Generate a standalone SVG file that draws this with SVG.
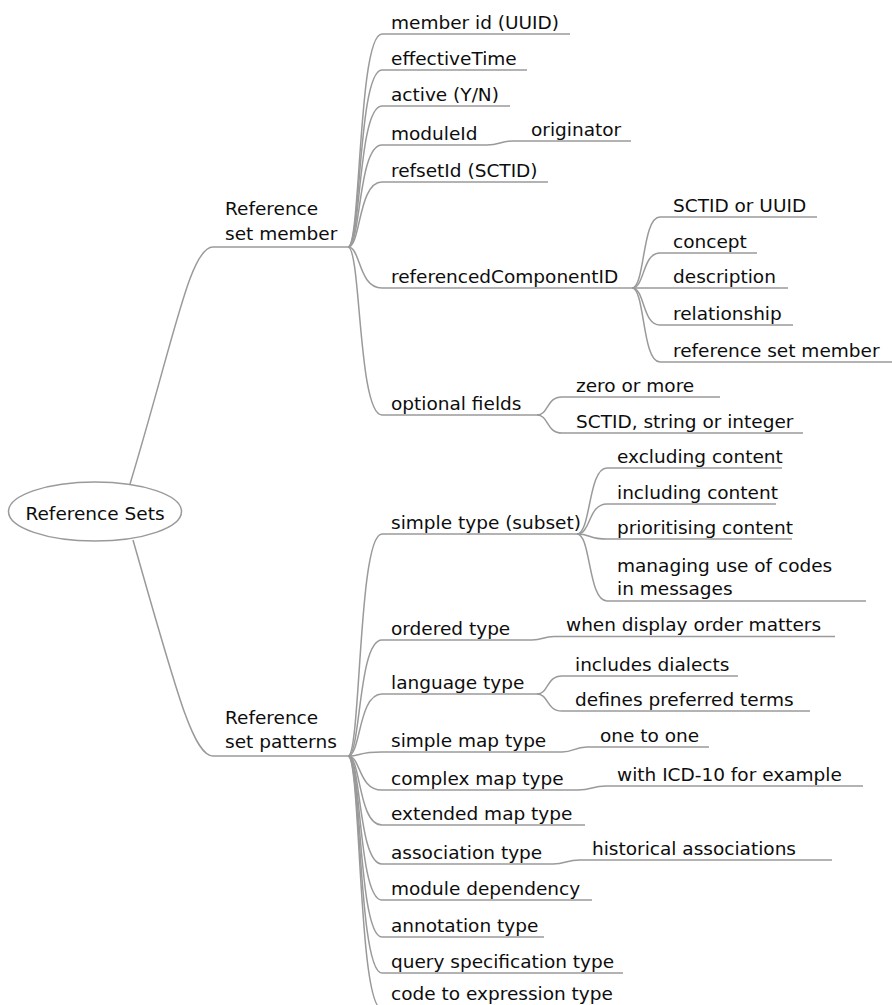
<svg xmlns="http://www.w3.org/2000/svg" width="892" height="1005" viewBox="0 0 892 1005">
<style>
text{font-family:"DejaVu Sans","Verdana",sans-serif;font-size:18.5px;fill:#0d0d0d}
.c{fill:none;stroke:#9a9a9a;stroke-width:1.5}
.root{fill:#fff;stroke:#9a9a9a;stroke-width:1.5}
</style>
<rect width="892" height="1005" fill="#fff"/>
<g id="connectors">
<path class="c" d="M130,484 C175,335 190,247 213,247 H348"/>
<path class="c" d="M133,540 C176,690 193,756 213,756 H348"/>
<path class="c" d="M348,247 C361,247 358,34 382,34 H570"/>
<path class="c" d="M348,247 C361,247 358,70 382,70 H527"/>
<path class="c" d="M348,247 C361,247 358,106 382,106 H510"/>
<path class="c" d="M348,247 C361,247 358,145 382,145 H487"/>
<path class="c" d="M487,145 C500,145 500,141 513,141 H631"/>
<path class="c" d="M348,247 C361,247 358,182 382,182 H548"/>
<path class="c" d="M348,247 C361,247 358,288 382,288 H632"/>
<path class="c" d="M348,247 C361,247 358,415 382,415 H537"/>
<path class="c" d="M632,288 C645,288 642,217 660,217 H817"/>
<path class="c" d="M632,288 C645,288 642,253 660,253 H757"/>
<path class="c" d="M632,288 C645,288 642,288 660,288 H788"/>
<path class="c" d="M632,288 C645,288 642,325 660,325 H793"/>
<path class="c" d="M632,288 C645,288 642,362 660,362 H892"/>
<path class="c" d="M537,415 C549,415 546,397 562,397 H720"/>
<path class="c" d="M537,415 C549,415 546,433 562,433 H803"/>
<path class="c" d="M348,756 C361,756 358,534 382,534 H577"/>
<path class="c" d="M348,756 C361,756 358,640 382,640 H532"/>
<path class="c" d="M532,640 C543,640 543,636.5 554,636.5 H835"/>
<path class="c" d="M348,756 C361,756 358,694 382,694 H537"/>
<path class="c" d="M348,756 C361,756 358,752 382,752 H562"/>
<path class="c" d="M562,752 C574,752 574,747 587,747 H709"/>
<path class="c" d="M348,756 C361,756 358,790 382,790 H578"/>
<path class="c" d="M578,790 C592,790 592,786 606,786 H863"/>
<path class="c" d="M348,756 C361,756 358,825 382,825 H585"/>
<path class="c" d="M348,756 C361,756 358,864 382,864 H553"/>
<path class="c" d="M553,864 C566,864 566,860 580,860 H832"/>
<path class="c" d="M348,756 C361,756 358,900 382,900 H592"/>
<path class="c" d="M348,756 C361,756 358,937 382,937 H544"/>
<path class="c" d="M348,756 C361,756 358,973 382,973 H623"/>
<path class="c" d="M348,756 C361,756 358,1009 382,1009 H623"/>
<path class="c" d="M577,534 C591,534 588,468 607,468 H782"/>
<path class="c" d="M577,534 C591,534 588,504 607,504 H776"/>
<path class="c" d="M577,534 C591,534 588,539 607,539 H792"/>
<path class="c" d="M577,534 C591,534 588,601 607,601 H866"/>
<path class="c" d="M537,694 C549,694 546,676 562,676 H738"/>
<path class="c" d="M537,694 C549,694 546,711 562,711 H810"/>
</g>
<g id="root"><ellipse class="root" cx="95" cy="511.5" rx="86.5" ry="29.5"/><text x="95" y="520" text-anchor="middle">Reference Sets</text></g>
<g id="n-member"><text x="225" y="215">Reference</text><text x="225" y="240">set member</text></g>
<g id="n-memberid"><text x="391" y="28.5">member id (UUID)</text></g>
<g id="n-effectiveTime"><text x="391" y="64.5">effectiveTime</text></g>
<g id="n-active"><text x="391" y="100.5">active (Y/N)</text></g>
<g id="n-moduleId"><text x="391" y="139.5">moduleId</text></g>
<g id="n-originator"><text x="531" y="135.5">originator</text></g>
<g id="n-refsetId"><text x="391" y="176.5">refsetId (SCTID)</text></g>
<g id="n-refcomp"><text x="391" y="282.5">referencedComponentID</text></g>
<g id="n-sctiduuid"><text x="673" y="211.5">SCTID or UUID</text></g>
<g id="n-concept"><text x="673" y="247.5">concept</text></g>
<g id="n-description"><text x="673" y="282.5">description</text></g>
<g id="n-relationship"><text x="673" y="319.5">relationship</text></g>
<g id="n-rsmember"><text x="673" y="356.5">reference set member</text></g>
<g id="n-optional"><text x="391" y="409.5">optional fields</text></g>
<g id="n-zero"><text x="576" y="391.5">zero or more</text></g>
<g id="n-sctidstr"><text x="576" y="427.5">SCTID, string or integer</text></g>
<g id="n-patterns"><text x="225" y="724">Reference</text><text x="225" y="748">set patterns</text></g>
<g id="n-simple"><text x="391" y="528.5">simple type (subset)</text></g>
<g id="n-excluding"><text x="617" y="462.5">excluding content</text></g>
<g id="n-including"><text x="617" y="498.5">including content</text></g>
<g id="n-prioritising"><text x="617" y="533.5">prioritising content</text></g>
<g id="n-managing"><text x="617" y="572">managing use of codes</text><text x="617" y="595">in messages</text></g>
<g id="n-ordered"><text x="391" y="634.5">ordered type</text></g>
<g id="n-display"><text x="566" y="630.5">when display order matters</text></g>
<g id="n-language"><text x="391" y="688.5">language type</text></g>
<g id="n-dialects"><text x="575" y="670.5">includes dialects</text></g>
<g id="n-preferred"><text x="575" y="705.5">defines preferred terms</text></g>
<g id="n-simplemap"><text x="391" y="746.5">simple map type</text></g>
<g id="n-onetoone"><text x="600" y="741.5">one to one</text></g>
<g id="n-complexmap"><text x="391" y="784.5">complex map type</text></g>
<g id="n-icd"><text x="617" y="780.5">with ICD-10 for example</text></g>
<g id="n-extended"><text x="391" y="819.5">extended map type</text></g>
<g id="n-association"><text x="391" y="858.5">association type</text></g>
<g id="n-historical"><text x="592" y="854.5">historical associations</text></g>
<g id="n-module"><text x="391" y="894.5">module dependency</text></g>
<g id="n-annotation"><text x="391" y="931.5">annotation type</text></g>
<g id="n-query"><text x="391" y="967.5">query specification type</text></g>
<g id="n-code"><text x="391" y="1000">code to expression type</text></g>
</svg>
